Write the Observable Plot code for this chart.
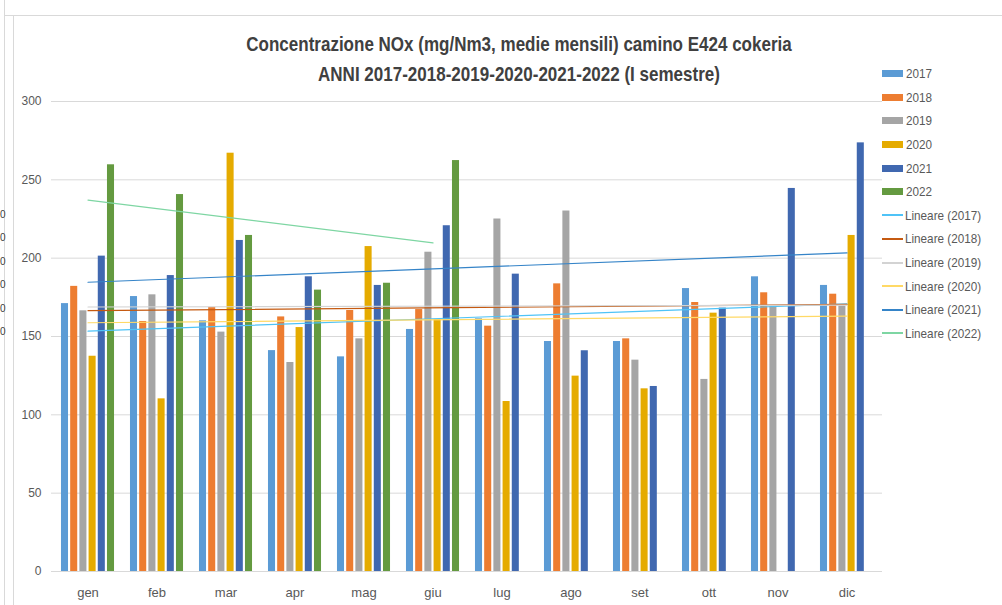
<!DOCTYPE html>
<html>
<head>
<meta charset="utf-8">
<script src="https://cdn.jsdelivr.net/npm/d3@7"></script>
<script src="https://cdn.jsdelivr.net/npm/@observablehq/plot@0.6"></script>
<style>
  html, body { margin: 0; padding: 0; background: #fff; }
  #wrap { position: relative; width: 1002px; height: 605px; overflow: hidden;
          font-family: 'Liberation Sans Narrow', 'Liberation Sans', sans-serif; color: #595959; }
  #chart { position: absolute; left: 0; top: 0; }
  #title { position: absolute; left: 19px; width: 1000px; top: 29px; text-align: center;
           font-weight: bold; font-size: 21px; line-height: 30px; color: #404040;
           transform: scaleX(0.81); transform-origin: 500px 0; }
  #legend { position: absolute; left: 882px; top: 62px; font-size: 13px; }
  .row { height: 23.6px; display: flex; align-items: center; }
  .row .t { display: inline-block; transform: scaleX(0.9); transform-origin: 0 50%; white-space: nowrap; }
  .sw { width: 21px; height: 7px; margin-right: 3px; flex: none; }
  .ln { width: 21px; height: 2px; margin-right: 2px; flex: none; }
  .frame { position: absolute; background: #d9d9d9; }
  .cut { position: absolute; left: 0px; font-size: 10px; color: #404040; }
</style>
</head>
<body>
<div id="wrap">
  <div class="frame" style="left:4px;top:0;width:1px;height:605px"></div>
  <div class="frame" style="left:13px;top:15px;width:1px;height:590px"></div>
  <div class="frame" style="left:5px;top:15px;width:997px;height:1px"></div>
  <div id="chart"></div>
  <div id="title">Concentrazione NOx (mg/Nm3, medie mensili) camino E424 cokeria<br>ANNI 2017-2018-2019-2020-2021-2022 (I semestre)</div>
  <div id="legend"></div>
</div>
<script>
const months = ["gen","feb","mar","apr","mag","giu","lug","ago","set","ott","nov","dic"];
const years = ["2017","2018","2019","2020","2021","2022"];
const v2017 = [171,175.5,160,141,137,154.5,161.3,146.8,146.8,180.6,188.1,182.6];
const v2018 = [182,159.6,168.5,162.5,166.6,167.2,156.6,183.6,148.5,171.7,177.9,177];
const v2019 = [166.4,176.6,152.8,133.4,148.5,203.8,225,230.1,134.9,122.6,169.4,169.4];
const v2020 = [137.4,110.2,267,155.7,207.4,160.9,108.5,124.7,116.6,164.9,null,214.5];
const v2021 = [201.3,188.9,211.3,188.1,182.6,220.7,189.8,140.9,118.1,168.1,244.5,273.6];
const v2022 = [259.6,240.6,214.5,179.6,184,262.3];
const barColors = ["#5B9BD5","#ED7D31","#A5A5A5","#E5AB00","#4068B0","#649A40"];
const trendColors = ["#4FC3F7","#C55A11","#D3D3D3","#FFD966","#3584C8","#7ED6A3"];
const trendLabels = years.map(y => `Lineare (${y})`);

const series = [v2017, v2018, v2019, v2020, v2021, v2022];
const rows = series.map((vals, i) =>
  vals.map((v, j) => ({year: years[i], month: months[j], idx: j + 1, value: v}))
      .filter(d => d.value != null));

// Excel-style linear trendline from the data (least squares on category index)
function trend(data) {
  const n = data.length;
  const mx = d3.mean(data, d => d.idx), my = d3.mean(data, d => d.value);
  let sxy = 0, sxx = 0;
  for (const d of data) { sxy += (d.idx - mx) * (d.value - my); sxx += (d.idx - mx) ** 2; }
  const b = sxy / sxx, a = my - b * mx;
  const first = data[0], last = data[n - 1];
  return [first, last].map(d => ({month: d.month, value: a + b * d.idx}));
}

const W = 1002, H = 605, ML = 51, MR = 120, MT = 101, MB = 34;
const bw = (W - ML - MR) / months.length;
const step = 9.2, barW = 7.3;
const off = (bw - (step * 5 + barW)) / 2;

const marks = [
  Plot.gridY({ticks: d3.range(0, 301, 50), stroke: "#d9d9d9", strokeOpacity: 1}),
  Plot.ruleY([0], {stroke: "#d9d9d9"}),
  ...rows.map((data, i) => Plot.barY(data, {
    x: "month", y: "value", fill: barColors[i],
    insetLeft: off + i * step, insetRight: bw - (off + i * step) - barW
  })),
  ...rows.map((data, i) => Plot.line(trend(data), {
    x: "month", y: "value", stroke: trendColors[i], strokeWidth: 1.2
  })),
  Plot.axisY({ticks: d3.range(0, 301, 50), tickSize: 0, tickPadding: 10, label: null, fontSize: 12, fill: "#595959"}),
  Plot.axisX({tickSize: 0, tickPadding: 16, label: null, fontSize: 13, fill: "#595959"})
];

const chart = Plot.plot({
  width: W, height: H,
  marginLeft: ML, marginRight: MR, marginTop: MT, marginBottom: MB,
  x: {type: "band", domain: months, padding: 0},
  y: {domain: [0, 300]},
  style: {fontFamily: "'Liberation Sans Narrow', 'Liberation Sans', sans-serif", color: "#595959", background: "transparent"},
  marks
});
document.getElementById("chart").appendChild(chart);

// legend
const lg = document.getElementById("legend");
years.forEach((y, i) => {
  const r = document.createElement("div"); r.className = "row";
  r.innerHTML = `<span class="sw" style="background:${barColors[i]}"></span><span class="t">${y}</span>`;
  lg.appendChild(r);
});
trendLabels.forEach((t, i) => {
  const r = document.createElement("div"); r.className = "row";
  r.innerHTML = `<span class="ln" style="background:${trendColors[i]}"></span><span class="t">${t}</span>`;
  lg.appendChild(r);
});

// glyphs of a neighbouring chart peeking in at the left edge
const wrap = document.getElementById("wrap");
[209, 232, 256, 279, 303, 326].forEach(t => {
  const s = document.createElement("div"); s.className = "cut"; s.style.top = t + "px"; s.textContent = "0";
  wrap.appendChild(s);
});
</script>
</body>
</html>
